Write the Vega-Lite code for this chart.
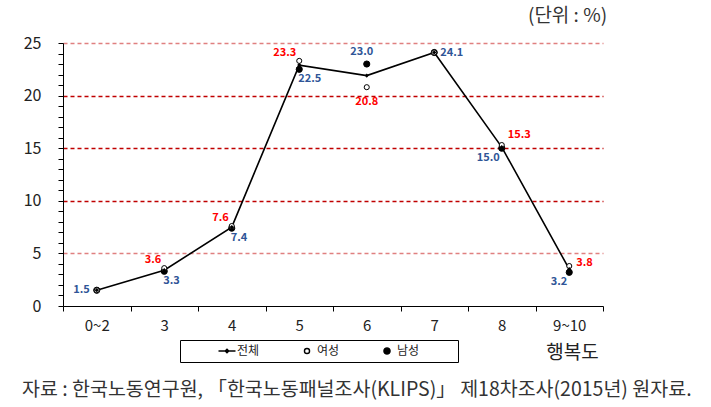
{
  "$schema": "https://vega.github.io/schema/vega-lite/v6.json",
  "width": 540,
  "height": 263,
  "autosize": {"type": "none"},
  "padding": {"left": 63, "top": 43, "right": 108, "bottom": 101},
  "background": "white",
  "config": {"view": {"stroke": null}, "font": "Noto Sans CJK KR"},
  "title": {
    "text": "자료 : 한국노동연구원, 「한국노동패널조사(KLIPS)」 제18차조사(2015년) 원자료.",
    "orient": "bottom",
    "anchor": "start",
    "frame": "group",
    "dx": -41,
    "offset": 18,
    "fontSize": 19.5,
    "fontWeight": "normal",
    "color": "#333333"
  },
  "data": {
    "values": [
      {"cat": "0~2", "series": "남성", "value": 1.5},
      {"cat": "3", "series": "남성", "value": 3.3},
      {"cat": "4", "series": "남성", "value": 7.4},
      {"cat": "5", "series": "남성", "value": 22.5},
      {"cat": "6", "series": "남성", "value": 23.0},
      {"cat": "7", "series": "남성", "value": 24.1},
      {"cat": "8", "series": "남성", "value": 15.0},
      {"cat": "9~10", "series": "남성", "value": 3.2},
      {"cat": "0~2", "series": "여성", "value": 1.5},
      {"cat": "3", "series": "여성", "value": 3.6},
      {"cat": "4", "series": "여성", "value": 7.6},
      {"cat": "5", "series": "여성", "value": 23.3},
      {"cat": "6", "series": "여성", "value": 20.8},
      {"cat": "7", "series": "여성", "value": 24.1},
      {"cat": "8", "series": "여성", "value": 15.3},
      {"cat": "9~10", "series": "여성", "value": 3.8},
      {"cat": "0~2", "series": "전체", "value": 1.5},
      {"cat": "3", "series": "전체", "value": 3.4},
      {"cat": "4", "series": "전체", "value": 7.5},
      {"cat": "5", "series": "전체", "value": 22.9},
      {"cat": "6", "series": "전체", "value": 21.9},
      {"cat": "7", "series": "전체", "value": 24.1},
      {"cat": "8", "series": "전체", "value": 15.1},
      {"cat": "9~10", "series": "전체", "value": 3.5}
    ]
  },
  "encoding": {
    "x": {
      "field": "cat",
      "type": "nominal",
      "sort": null,
      "scale": {"type": "band", "domain": ["0~2", "3", "4", "5", "6", "7", "8", "9~10"], "paddingInner": 0, "paddingOuter": 0},
      "axis": {
        "title": "행복도",
        "labelAngle": 0,
        "labelFontSize": 15,
        "labelColor": "#222222",
        "labelPadding": 7,
        "tickSize": 5,
        "tickBand": "extent",
        "domainColor": "black",
        "tickColor": "black",
        "grid": false,
        "titleX": 509,
        "titleY": 46,
        "titleAlign": "center",
        "titleBaseline": "middle",
        "titleFontSize": 19,
        "titleFontWeight": "normal",
        "titleColor": "#222222"
      }
    },
    "y": {
      "field": "value",
      "type": "quantitative",
      "scale": {"domain": [0, 25], "nice": false},
      "axis": {
        "values": [0,1,2,3,4,5,6,7,8,9,10,11,12,13,14,15,16,17,18,19,20,21,22,23,24,25],
        "labelExpr": "datum.value % 5 === 0 ? datum.label : ''",
        "labelFontSize": 16,
        "labelColor": "#222222",
        "labelPadding": 17,
        "tickSize": 5,
        "domainColor": "black",
        "tickColor": "black",
        "grid": true,
        "gridDash": [4, 3],
        "gridWidth": 1.3,
        "gridColor": {"condition": {"test": "datum.value === 5 || datum.value === 25", "value": "#e08080"}, "value": "#c00000"},
        "gridOpacity": {"condition": {"test": "datum.value % 5 === 0 && datum.value > 0", "value": 1}, "value": 0},
        "title": "(단위 : %)",
        "titleAngle": 0,
        "titleX": 504,
        "titleY": -28,
        "titleAlign": "center",
        "titleBaseline": "middle",
        "titleFontSize": 19,
        "titleFontWeight": "normal",
        "titleColor": "#333333",
        "encode": {"ticks": {"x2": {"condition": {"test": "datum.value % 5 === 0", "value": -5}, "value": 4}}}
      }
    }
  },
  "layer": [
    {
      "transform": [{"filter": "datum.series === '전체'"}],
      "mark": {"type": "line", "color": "black", "strokeWidth": 1.6}
    },
    {
      "transform": [{"filter": "datum.series !== '전체'"}],
      "mark": {"type": "point", "filled": false, "stroke": "black", "strokeWidth": 1, "opacity": 1},
      "encoding": {
        "shape": {
          "field": "series",
          "type": "nominal",
          "scale": {"domain": ["전체", "여성", "남성"], "range": ["M-1.7,0H1.7M0,-0.35L0.35,0L0,0.35L-0.35,0Z", "circle", "circle"]},
          "legend": {
            "orient": "none",
            "legendX": 117,
            "legendY": 297,
            "direction": "horizontal",
            "title": "\u00a0",
            "titleOrient": "right",
            "titlePadding": 34,
            "titleFontSize": 12,
            "strokeColor": "black",
            "padding": 5,
            "symbolOffset": 36,
            "columnPadding": 5,
            "labelFontSize": 12,
            "labelOffset": 4,
            "labelColor": "#222222",
            "symbolStrokeWidth": 1.4
          }
        },
        "fill": {
          "field": "series",
          "type": "nominal",
          "scale": {"domain": ["전체", "여성", "남성"], "range": ["black", "white", "black"]}
        },
        "size": {
          "field": "series",
          "type": "nominal",
          "scale": {"type": "ordinal", "domain": ["전체", "여성", "남성"], "range": [100, 26, 38]}
        }
      }
    },
    {
      "transform": [{"filter": "datum.series === '전체'"}],
      "mark": {"type": "point", "shape": "diamond", "filled": true, "color": "black", "size": 18, "opacity": 1}
    },
    {
      "transform": [{"filter": "datum.series === '남성' && datum.cat === '0~2'"}],
      "mark": {"type": "text", "align": "right", "baseline": "middle", "dx": -7, "dy": 0, "fontWeight": "bold", "fontSize": 11, "color": "#2F5597"},
      "encoding": {"text": {"field": "value", "type": "quantitative", "format": ".1f"}}
    },
    {
      "transform": [{"filter": "datum.series === '남성' && (datum.cat === '3' || datum.cat === '4' || datum.cat === '5')"}],
      "mark": {"type": "text", "align": "left", "baseline": "middle", "dx": -1, "dy": 10, "fontWeight": "bold", "fontSize": 11, "color": "#2F5597"},
      "encoding": {"text": {"field": "value", "type": "quantitative", "format": ".1f"}}
    },
    {
      "transform": [{"filter": "datum.series === '여성' && (datum.cat === '3' || datum.cat === '4' || datum.cat === '5')"}],
      "mark": {"type": "text", "align": "right", "baseline": "middle", "dx": -3, "dy": -8, "fontWeight": "bold", "fontSize": 11, "color": "#FF0000"},
      "encoding": {"text": {"field": "value", "type": "quantitative", "format": ".1f"}}
    },
    {
      "transform": [{"filter": "datum.series === '남성' && datum.cat === '6'"}],
      "mark": {"type": "text", "align": "center", "baseline": "middle", "dx": -5, "dy": -12, "fontWeight": "bold", "fontSize": 11, "color": "#2F5597"},
      "encoding": {"text": {"field": "value", "type": "quantitative", "format": ".1f"}}
    },
    {
      "transform": [{"filter": "datum.series === '여성' && datum.cat === '6'"}],
      "mark": {"type": "text", "align": "center", "baseline": "middle", "dx": 0, "dy": 15, "fontWeight": "bold", "fontSize": 11, "color": "#FF0000"},
      "encoding": {"text": {"field": "value", "type": "quantitative", "format": ".1f"}}
    },
    {
      "transform": [{"filter": "datum.series === '남성' && datum.cat === '7'"}],
      "mark": {"type": "text", "align": "left", "baseline": "middle", "dx": 6, "dy": 1, "fontWeight": "bold", "fontSize": 11, "color": "#2F5597"},
      "encoding": {"text": {"field": "value", "type": "quantitative", "format": ".1f"}}
    },
    {
      "transform": [{"filter": "datum.series === '여성' && datum.cat === '9~10'"}],
      "mark": {"type": "text", "align": "left", "baseline": "middle", "dx": 7, "dy": -3, "fontWeight": "bold", "fontSize": 11, "color": "#FF0000"},
      "encoding": {"text": {"field": "value", "type": "quantitative", "format": ".1f"}}
    },
    {
      "transform": [{"filter": "datum.series === '여성' && datum.cat === '8'"}],
      "mark": {"type": "text", "align": "left", "baseline": "middle", "dx": 6, "dy": -10, "fontWeight": "bold", "fontSize": 11, "color": "#FF0000"},
      "encoding": {"text": {"field": "value", "type": "quantitative", "format": ".1f"}}
    },
    {
      "transform": [{"filter": "datum.series === '남성' && (datum.cat === '8' || datum.cat === '9~10')"}],
      "mark": {"type": "text", "align": "right", "baseline": "middle", "dx": -2, "dy": 10, "fontWeight": "bold", "fontSize": 11, "color": "#2F5597"},
      "encoding": {"text": {"field": "value", "type": "quantitative", "format": ".1f"}}
    }
  ]
}
